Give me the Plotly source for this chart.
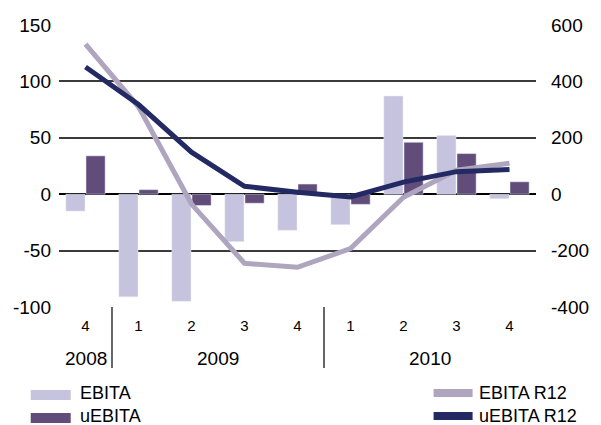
import plotly.graph_objects as go

quarters = ["4", "1", "2", "3", "4", "1", "2", "3", "4"]
years = ["2008", "2009", "2010"]
year_centers = [0, 2.5, 6.5]
year_dividers = [0.5, 4.5]

left_ticks = [-100, -50, 0, 50, 100, 150]
right_ticks = [-400, -200, 0, 200, 400, 600]

ebita = [-15, -91, -95, -42, -32, -27, 87, 52, -4]
uebita = [34, 4, -10, -8, 9, -9, 46, 36, 11]
ebita_r12 = [532, 310, -35, -245, -259, -193, -11, 85, 110]
uebita_r12 = [451, 318, 149, 28, 7, -10, 43, 80, 88]

C_EBITA = "#c6c3de"
C_UEBITA = "#614c7a"
C_EBITA_R12 = "#b0a5bf"
C_UEBITA_R12 = "#232a63"

FONT = "Liberation Sans, Arial, sans-serif"
x = list(range(len(quarters)))

fig = go.Figure()
fig.add_trace(go.Bar(x=x, y=ebita, name="EBITA", marker_color=C_EBITA, showlegend=False))
fig.add_trace(go.Bar(x=x, y=uebita, name="uEBITA", marker_color=C_UEBITA, showlegend=False))
fig.add_trace(go.Scatter(x=x, y=ebita_r12, name="EBITA R12", mode="lines",
                         line=dict(color=C_EBITA_R12, width=5), yaxis="y2", showlegend=False))
fig.add_trace(go.Scatter(x=x, y=uebita_r12, name="uEBITA R12", mode="lines",
                         line=dict(color=C_UEBITA_R12, width=5), yaxis="y2", showlegend=False))

L, R, T, B = 59, 548, 25, 307
W, H = 601, 425
def px(p):
    return (p - L) / (R - L)
def py(p):
    return (B - p) / (B - T)

shapes = []
annotations = []
for d in year_dividers:
    shapes.append(dict(type="line", xref="x", yref="paper", x0=d, x1=d,
                       y0=0, y1=py(368), line=dict(color="black", width=1.2)))
for yr, c in zip(years, year_centers):
    annotations.append(dict(text=yr, xref="x", yref="paper", x=c, y=py(358),
                            showarrow=False, font=dict(size=19, color="black", family=FONT),
                            xanchor="center", yanchor="middle"))

leg = [
    ("EBITA", C_EBITA, 30, 71, 390, 400, 80, 393),
    ("uEBITA", C_UEBITA, 30, 71, 413, 423, 80, 416),
    ("EBITA R12", C_EBITA_R12, 443, 483, 389, 397, 489, 393),
    ("uEBITA R12", C_UEBITA_R12, 443, 483, 412, 420, 489, 416),
]
for name, col, x0, x1, y0, y1, tx, ty in leg:
    shapes.append(dict(type="rect", xref="paper", yref="paper", x0=px(x0), x1=px(x1),
                       y0=py(y1), y1=py(y0), fillcolor=col, line=dict(width=0)))
    annotations.append(dict(text=name, xref="paper", yref="paper", x=px(tx), y=py(ty),
                            showarrow=False, font=dict(size=18, color="black", family=FONT),
                            xanchor="left", yanchor="middle", borderpad=0))

fig.update_layout(
    width=W, height=H,
    margin=dict(l=L, r=W - R, t=T, b=H - B, pad=0),
    paper_bgcolor="white", plot_bgcolor="white",
    barmode="group", bargap=0.24, bargroupgap=0.05,
    font=dict(family=FONT, size=19, color="black"),
    xaxis=dict(tickvals=x, ticktext=quarters, range=[-0.5, len(x) - 0.5],
               showgrid=False, zeroline=False, showline=False, ticks="",
               tickfont=dict(size=15), ticklabelstandoff=8),
    yaxis=dict(range=[-100, 150], tickvals=left_ticks, ticktext=[str(v) for v in left_ticks],
               showgrid=True, gridcolor="#3a3a3a", gridwidth=1.5,
               zeroline=True, zerolinecolor="black", zerolinewidth=2,
               showline=False, ticks="", ticklabelstandoff=7),
    yaxis2=dict(range=[-400, 600], tickvals=right_ticks, ticktext=[str(v) for v in right_ticks],
                overlaying="y", side="right", showgrid=False, zeroline=False,
                showline=False, ticks="", ticklabelstandoff=14),
    shapes=shapes, annotations=annotations,
)

fig.write_html("out.html", config={"displayModeBar": False},
               post_script="document.body.style.margin='0';document.body.style.overflow='hidden';")
